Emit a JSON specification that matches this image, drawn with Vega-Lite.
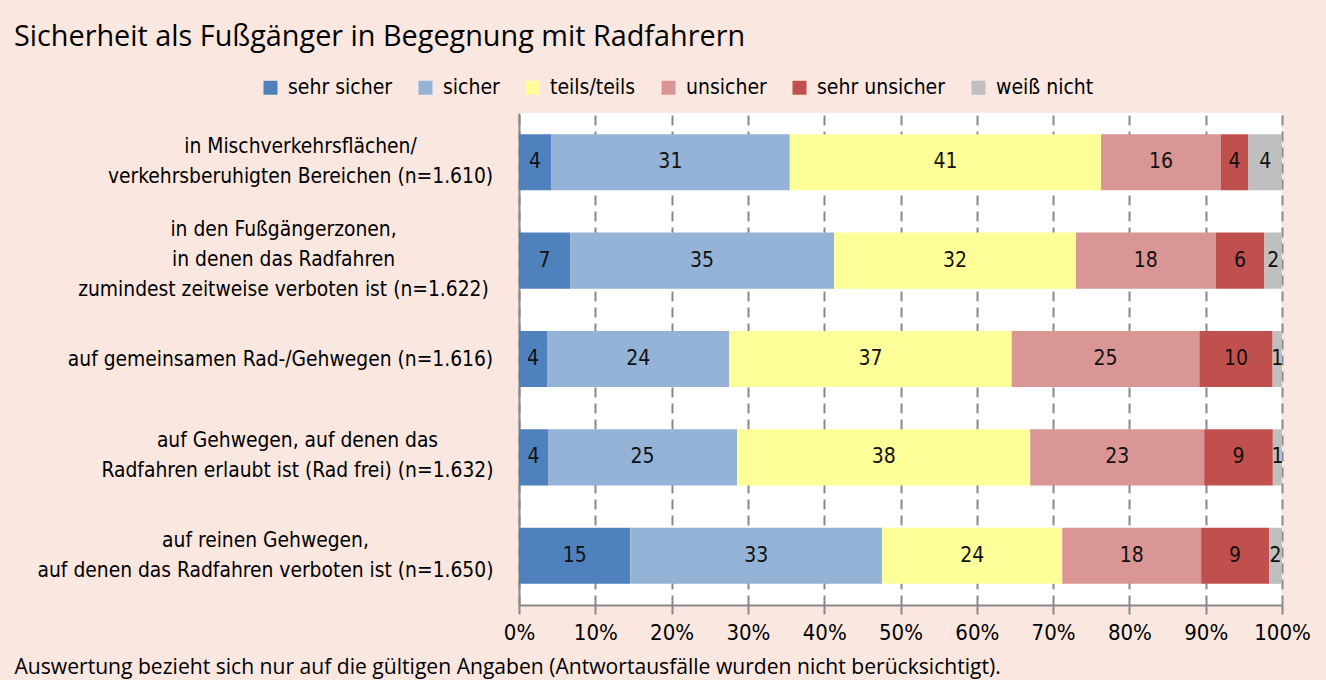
{
  "$schema": "https://vega.github.io/schema/vega-lite/v6.json",
  "width": 763,
  "height": 492,
  "autosize": {"type": "none"},
  "padding": {"left": 519, "top": 113, "right": 44, "bottom": 75},
  "background": "#F9E7E0",
  "config": {"view": {"fill": "white", "stroke": null}, "font": "DejaVu Sans Condensed"},
  "title": {
    "text": "Sicherheit als Fußgänger in Begegnung mit Radfahrern",
    "anchor": "start",
    "frame": "group",
    "dx": -505,
    "offset": 25,
    "font": "Open Sans",
    "fontSize": 28.8,
    "fontWeight": 500,
    "color": "black"
  },
  "data": {
    "values": [
      {"q": "in Mischverkehrsflächen/|verkehrsberuhigten Bereichen (n=1.610)", "cat": "sehr sicher", "i": 1, "v": 4.19},
      {"q": "in Mischverkehrsflächen/|verkehrsberuhigten Bereichen (n=1.610)", "cat": "sicher", "i": 2, "v": 31.3},
      {"q": "in Mischverkehrsflächen/|verkehrsberuhigten Bereichen (n=1.610)", "cat": "teils/teils", "i": 3, "v": 40.8},
      {"q": "in Mischverkehrsflächen/|verkehrsberuhigten Bereichen (n=1.610)", "cat": "unsicher", "i": 4, "v": 15.7},
      {"q": "in Mischverkehrsflächen/|verkehrsberuhigten Bereichen (n=1.610)", "cat": "sehr unsicher", "i": 5, "v": 3.6},
      {"q": "in Mischverkehrsflächen/|verkehrsberuhigten Bereichen (n=1.610)", "cat": "weiß nicht", "i": 6, "v": 4.41},
      {"q": "in den Fußgängerzonen,|in denen das Radfahren|zumindest zeitweise verboten ist  (n=1.622)", "cat": "sehr sicher", "i": 1, "v": 6.7},
      {"q": "in den Fußgängerzonen,|in denen das Radfahren|zumindest zeitweise verboten ist  (n=1.622)", "cat": "sicher", "i": 2, "v": 34.6},
      {"q": "in den Fußgängerzonen,|in denen das Radfahren|zumindest zeitweise verboten ist  (n=1.622)", "cat": "teils/teils", "i": 3, "v": 31.7},
      {"q": "in den Fußgängerzonen,|in denen das Radfahren|zumindest zeitweise verboten ist  (n=1.622)", "cat": "unsicher", "i": 4, "v": 18.3},
      {"q": "in den Fußgängerzonen,|in denen das Radfahren|zumindest zeitweise verboten ist  (n=1.622)", "cat": "sehr unsicher", "i": 5, "v": 6.4},
      {"q": "in den Fußgängerzonen,|in denen das Radfahren|zumindest zeitweise verboten ist  (n=1.622)", "cat": "weiß nicht", "i": 6, "v": 2.3},
      {"q": "auf gemeinsamen Rad-/Gehwegen (n=1.616)", "cat": "sehr sicher", "i": 1, "v": 3.67},
      {"q": "auf gemeinsamen Rad-/Gehwegen (n=1.616)", "cat": "sicher", "i": 2, "v": 23.9},
      {"q": "auf gemeinsamen Rad-/Gehwegen (n=1.616)", "cat": "teils/teils", "i": 3, "v": 37.0},
      {"q": "auf gemeinsamen Rad-/Gehwegen (n=1.616)", "cat": "unsicher", "i": 4, "v": 24.6},
      {"q": "auf gemeinsamen Rad-/Gehwegen (n=1.616)", "cat": "sehr unsicher", "i": 5, "v": 9.6},
      {"q": "auf gemeinsamen Rad-/Gehwegen (n=1.616)", "cat": "weiß nicht", "i": 6, "v": 1.23},
      {"q": "auf Gehwegen, auf denen das|Radfahren erlaubt ist (Rad frei) (n=1.632)", "cat": "sehr sicher", "i": 1, "v": 3.8},
      {"q": "auf Gehwegen, auf denen das|Radfahren erlaubt ist (Rad frei) (n=1.632)", "cat": "sicher", "i": 2, "v": 24.8},
      {"q": "auf Gehwegen, auf denen das|Radfahren erlaubt ist (Rad frei) (n=1.632)", "cat": "teils/teils", "i": 3, "v": 38.4},
      {"q": "auf Gehwegen, auf denen das|Radfahren erlaubt ist (Rad frei) (n=1.632)", "cat": "unsicher", "i": 4, "v": 22.8},
      {"q": "auf Gehwegen, auf denen das|Radfahren erlaubt ist (Rad frei) (n=1.632)", "cat": "sehr unsicher", "i": 5, "v": 9.0},
      {"q": "auf Gehwegen, auf denen das|Radfahren erlaubt ist (Rad frei) (n=1.632)", "cat": "weiß nicht", "i": 6, "v": 1.2},
      {"q": "auf reinen Gehwegen,|auf denen das Radfahren verboten ist (n=1.650)", "cat": "sehr sicher", "i": 1, "v": 14.6},
      {"q": "auf reinen Gehwegen,|auf denen das Radfahren verboten ist (n=1.650)", "cat": "sicher", "i": 2, "v": 33.0},
      {"q": "auf reinen Gehwegen,|auf denen das Radfahren verboten ist (n=1.650)", "cat": "teils/teils", "i": 3, "v": 23.6},
      {"q": "auf reinen Gehwegen,|auf denen das Radfahren verboten ist (n=1.650)", "cat": "unsicher", "i": 4, "v": 18.2},
      {"q": "auf reinen Gehwegen,|auf denen das Radfahren verboten ist (n=1.650)", "cat": "sehr unsicher", "i": 5, "v": 8.9},
      {"q": "auf reinen Gehwegen,|auf denen das Radfahren verboten ist (n=1.650)", "cat": "weiß nicht", "i": 6, "v": 1.7}
    ]
  },
  "encoding": {
    "y": {
      "field": "q",
      "type": "nominal",
      "sort": null,
      "scale": {"paddingInner": 0.43, "paddingOuter": 0.215},
      "axis": {
        "title": null,
        "ticks": false,
        "domainColor": "#8a8a8a",
        "domainWidth": 2,
        "labelExpr": "split(datum.value, '|')",
        "labelFontSize": 20.8,
        "labelColor": "black",
        "labelLineHeight": 30,
        "labelAlign": "center",
        "labelLimit": 0,
        "labelOffset": {
          "condition": [
            {"test": "indexof(datum.value, 'Mischverkehr') >= 0", "value": -15},
            {"test": "indexof(datum.value, 'Fußgängerzonen') >= 0", "value": -31},
            {"test": "indexof(datum.value, 'Rad frei') >= 0", "value": -16},
            {"test": "indexof(datum.value, 'reinen') >= 0", "value": -15}
          ],
          "value": 1
        },
        "labelPadding": {
          "condition": [
            {"test": "indexof(datum.value, 'Mischverkehr') >= 0", "value": 219},
            {"test": "indexof(datum.value, 'Fußgängerzonen') >= 0", "value": 236},
            {"test": "indexof(datum.value, 'Rad frei') >= 0", "value": 222},
            {"test": "indexof(datum.value, 'reinen') >= 0", "value": 254}
          ],
          "value": 239
        }
      }
    }
  },
  "layer": [
    {
      "mark": {"type": "bar"},
      "encoding": {
        "x": {
          "field": "v",
          "type": "quantitative",
          "stack": "normalize",
          "scale": {"domain": [0, 1], "nice": false},
          "axis": {
            "format": "%",
            "values": [0, 0.1, 0.2, 0.3, 0.4, 0.5, 0.6, 0.7, 0.8, 0.9, 1],
            "title": "Auswertung bezieht sich nur auf die gültigen Angaben (Antwortausfälle wurden nicht berücksichtigt).",
            "titleX": -505,
            "titleY": 68,
            "titleAlign": "left",
            "titleAnchor": "start",
            "titleBaseline": "alphabetic",
            "titleFont": "Open Sans",
            "titleFontSize": 21.1,
            "titleFontWeight": "normal",
            "titleColor": "black",
            "labelFontSize": 22,
            "labelColor": "black",
            "labelPadding": 8,
            "labelFlush": false,
            "tickSize": 9,
            "tickColor": "#8a8a8a",
            "tickWidth": 2,
            "domainColor": "#8a8a8a",
            "domainWidth": 2,
            "grid": true,
            "gridColor": "#8a8a8a",
            "gridDash": [10, 6],
            "gridWidth": 2
          }
        },
        "color": {
          "field": "cat",
          "type": "nominal",
          "scale": {
            "domain": ["sehr sicher", "sicher", "teils/teils", "unsicher", "sehr unsicher", "weiß nicht"],
            "range": ["#4F81BD", "#95B3D7", "#FFFF99", "#D99694", "#C0504D", "#BFBFBF"]
          },
          "legend": {
            "orient": "none",
            "legendX": -259,
            "legendY": -36,
            "direction": "horizontal",
            "title": null,
            "symbolType": "square",
            "symbolSize": 196,
            "symbolStrokeWidth": 0,
            "symbolOpacity": 1,
            "labelFontSize": 21,
            "labelColor": "black",
            "labelOffset": 7,
            "columnPadding": 22,
            "labelLimit": 0
          }
        },
        "order": {"field": "i", "type": "quantitative"}
      }
    },
    {
      "mark": {"type": "text", "fontSize": 21, "color": "#111111", "baseline": "middle"},
      "encoding": {
        "x": {"field": "v", "type": "quantitative", "stack": "normalize", "bandPosition": 0.5},
        "detail": {"field": "cat", "type": "nominal"},
        "order": {"field": "i", "type": "quantitative"},
        "text": {"field": "v", "type": "quantitative", "format": ".0f"}
      }
    }
  ]
}
